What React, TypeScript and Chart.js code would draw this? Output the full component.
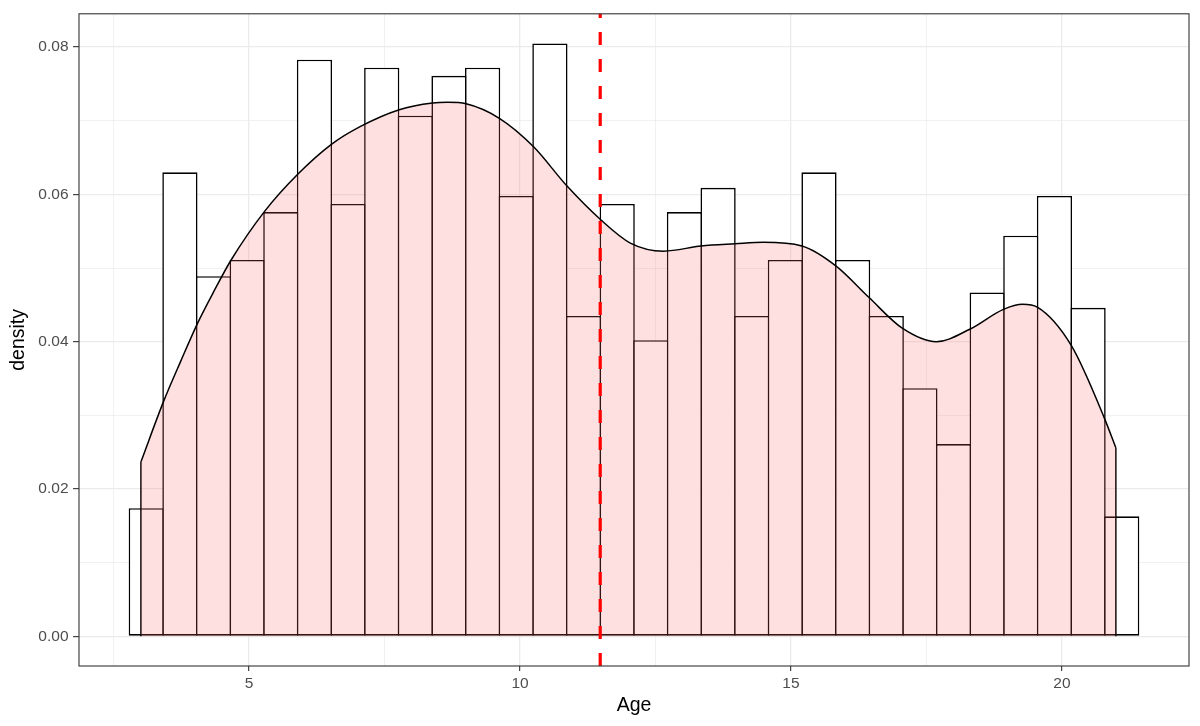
import React, { useEffect, useRef } from "react";
import { Chart, registerables } from "chart.js";

Chart.register(...registerables);

// Histogram bins (centres of 30 bins, width 18/29) and their densities
const binCenters = [
  3.1034, 3.7241, 4.3448, 4.9655, 5.5862, 6.2069, 6.8276, 7.4483, 8.069, 8.6897,
  9.3103, 9.931, 10.5517, 11.1724, 11.7931, 12.4138, 13.0345, 13.6552, 14.2759, 14.8966,
  15.5172, 16.1379, 16.7586, 17.3793, 18.0, 18.6207, 19.2414, 19.8621, 20.4828, 21.1034,
];
const binDensity = [
  0.0174, 0.063, 0.0489, 0.0511, 0.0576, 0.0783, 0.0587, 0.0772, 0.0707, 0.0761,
  0.0772, 0.0598, 0.0805, 0.0435, 0.0587, 0.0402, 0.0576, 0.0609, 0.0435, 0.0511,
  0.063, 0.0511, 0.0435, 0.0337, 0.0261, 0.0467, 0.0544, 0.0598, 0.0446, 0.0163,
];

// Kernel density curve
const densityX = [
  3.005, 3.423, 3.736, 4.049, 4.348, 4.669, 5.287, 5.907, 6.52, 7.049, 7.772, 8.387,
  8.663, 9.005, 9.626, 10.246, 10.872, 11.484, 12.036, 12.649, 13.343, 13.969, 14.49,
  15.202, 15.828, 16.441, 17.061, 17.682, 18.3, 18.92, 19.276, 19.546, 20.172, 20.785, 20.995,
];
const densityY = [
  0.0237, 0.0319, 0.0373, 0.0425, 0.0468, 0.0511, 0.0577, 0.0628, 0.0668, 0.0692, 0.0715, 0.0724,
  0.0725, 0.0723, 0.0703, 0.0665, 0.0611, 0.0566, 0.0534, 0.0523, 0.053, 0.0533, 0.0535,
  0.053, 0.0503, 0.046, 0.0418, 0.04, 0.0417, 0.0444, 0.0451, 0.0447, 0.0395, 0.0296, 0.0256,
];

const meanAge = 11.48;

const xMajorTicks = [5, 10, 15, 20];
const xMinorTicks = [2.5, 7.5, 12.5, 17.5];
const yMajorTicks = [0, 0.02, 0.04, 0.06, 0.08];
const yMinorTicks = [0.01, 0.03, 0.05, 0.07];
const xLimits = [1.862, 22.345];
const yLimits = [-0.004025, 0.084525];
const xTitle = "Age";
const yTitle = "density";

const FONT = "'Liberation Sans', Arial, Helvetica, sans-serif";

const isIn = (arr: number[], v: number) => arr.some((a) => Math.abs(a - v) < 1e-9);

export default function App() {
  const ref = useRef<HTMLCanvasElement>(null);

  useEffect(() => {
    const canvas = ref.current;
    if (!canvas) return;

    const areaLeft = 79;
    const areaRight = 1189;
    const pxPerUnit = (areaRight - areaLeft) / (xLimits[1] - xLimits[0]);
    const binPx = (binCenters[1] - binCenters[0]) * pxPerUnit;
    const barBorder = 1.6;
    const barRatio = 1 + barBorder / binPx;

    const panelBorder = {
      id: "panelBorder",
      afterDatasetsDraw(chart: any) {
        const { ctx, chartArea } = chart;
        ctx.save();
        ctx.strokeStyle = "#333333";
        ctx.lineWidth = 1.1;
        ctx.strokeRect(
          chartArea.left,
          chartArea.top,
          chartArea.right - chartArea.left,
          chartArea.bottom - chartArea.top
        );
        ctx.restore();
      },
    };

    const chart = new Chart(canvas, {
      type: "bar",
      data: {
        datasets: [
          {
            type: "line",
            label: "mean",
            data: [
              { x: meanAge, y: yLimits[0] },
              { x: meanAge, y: yLimits[1] },
            ],
            borderColor: "#FF0000",
            borderWidth: 3.2,
            borderDash: [13, 14],
            pointRadius: 0,
            fill: false,
            order: 1,
          } as any,
          {
            type: "line",
            label: "density",
            data: densityX.map((x, i) => ({ x, y: densityY[i] })),
            borderColor: "#000000",
            borderWidth: 1.5,
            backgroundColor: "rgba(255,102,102,0.2)",
            fill: "origin",
            pointRadius: 0,
            cubicInterpolationMode: "monotone",
            order: 2,
          } as any,
          {
            type: "line",
            label: "edgeL",
            data: [
              { x: densityX[0], y: 0 },
              { x: densityX[0], y: densityY[0] },
            ],
            borderColor: "#000000",
            borderWidth: 1.5,
            pointRadius: 0,
            fill: false,
            order: 2,
          } as any,
          {
            type: "line",
            label: "edgeR",
            data: [
              { x: densityX[densityX.length - 1], y: 0 },
              { x: densityX[densityX.length - 1], y: densityY[densityY.length - 1] },
            ],
            borderColor: "#000000",
            borderWidth: 1.5,
            pointRadius: 0,
            fill: false,
            order: 2,
          } as any,
          {
            type: "bar",
            label: "hist",
            data: binCenters.map((x, i) => ({ x, y: binDensity[i] })),
            backgroundColor: "#FFFFFF",
            borderColor: "#000000",
            borderWidth: barBorder,
            borderSkipped: false,
            categoryPercentage: 1,
            barPercentage: barRatio,
            grouped: false,
            inflateAmount: 0,
            order: 3,
          } as any,
        ],
      },
      options: {
        responsive: false,
        animation: false,
        layout: { padding: { left: 0, top: 10, right: 1200 - areaRight, bottom: 0 } },
        plugins: {
          legend: { display: false },
          tooltip: { enabled: false },
        },
        scales: {
          x: {
            type: "linear",
            offset: false,
            min: xLimits[0],
            max: xLimits[1],
            afterBuildTicks: (axis: any) => {
              axis.ticks = [...xMinorTicks, ...xMajorTicks]
                .sort((a, b) => a - b)
                .map((v) => ({ value: v }));
            },
            afterFit: (axis: any) => {
              axis.height = 60;
            },
            ticks: {
              autoSkip: false,
              maxRotation: 0,
              padding: 3,
              color: "#4D4D4D",
              font: { family: FONT, size: 15.5 },
              callback: (v: any) => (isIn(xMajorTicks, Number(v)) ? String(v) : ""),
            },
            grid: {
              offset: false,
              color: "#EBEBEB",
              lineWidth: (c: any) => (c.tick && isIn(xMajorTicks, c.tick.value) ? 1.3 : 0.7),
              drawTicks: true,
              tickLength: 5,
              tickWidth: 1.1,
              tickColor: (c: any) =>
                c.tick && isIn(xMajorTicks, c.tick.value) ? "#333333" : "rgba(0,0,0,0)",
            },
            border: { display: false },
            title: {
              display: true,
              text: xTitle,
              color: "#000000",
              font: { family: FONT, size: 19.5 },
              padding: { top: 0, bottom: 8.8 },
            },
          },
          y: {
            type: "linear",
            min: yLimits[0],
            max: yLimits[1],
            afterBuildTicks: (axis: any) => {
              axis.ticks = [...yMinorTicks, ...yMajorTicks]
                .sort((a, b) => a - b)
                .map((v) => ({ value: v }));
            },
            afterFit: (axis: any) => {
              axis.width = areaLeft;
            },
            ticks: {
              autoSkip: false,
              padding: 4.5,
              color: "#4D4D4D",
              font: { family: FONT, size: 15.5 },
              callback: (v: any) => (isIn(yMajorTicks, Number(v)) ? Number(v).toFixed(2) : ""),
            },
            grid: {
              color: "#EBEBEB",
              lineWidth: (c: any) => (c.tick && isIn(yMajorTicks, c.tick.value) ? 1.3 : 0.7),
              drawTicks: true,
              tickLength: 6,
              tickWidth: 1.1,
              tickColor: (c: any) =>
                c.tick && isIn(yMajorTicks, c.tick.value) ? "#333333" : "rgba(0,0,0,0)",
            },
            border: { display: false },
            title: {
              display: true,
              text: yTitle,
              color: "#000000",
              font: { family: FONT, size: 19.5 },
              padding: { top: 7, bottom: 0 },
            },
          },
        },
      } as any,
      plugins: [panelBorder],
    });

    return () => {
      chart.destroy();
    };
  }, []);

  return (
    <div style={{ position: "absolute", left: 0, top: 0, width: 1200, height: 726, background: "#FFFFFF" }}>
      <canvas ref={ref} width={1200} height={726} style={{ display: "block" }} />
    </div>
  );
}
